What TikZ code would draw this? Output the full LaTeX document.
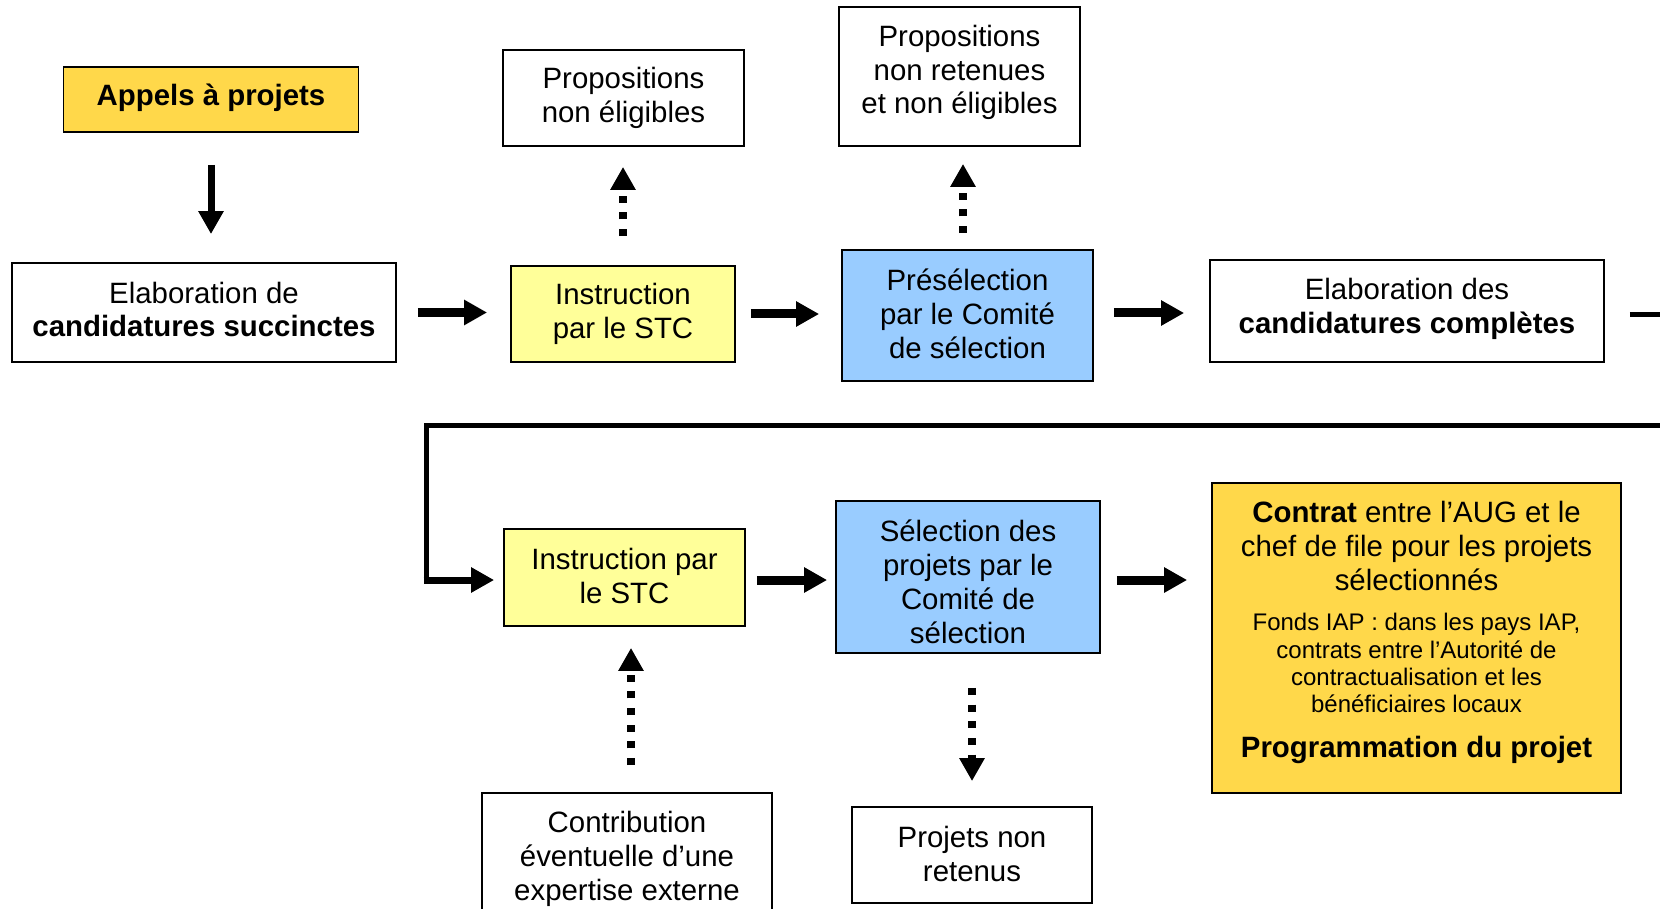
\documentclass[tikz,border=0pt]{standalone}
\usepackage{fontspec}
\setmainfont{Liberation Sans}
\usetikzlibrary{arrows.meta,calc}
\definecolor{gold}{HTML}{FFD84A}
\definecolor{lightyel}{HTML}{FFFF99}
\definecolor{skyblue}{HTML}{99CCFF}
\newcommand{\fbig}{\fontsize{29.4}{33.9}\selectfont}
\newcommand{\fsmall}{\fontsize{24}{27.3}\selectfont}
\begin{document}
\begin{tikzpicture}[x=1pt,y=-1pt,
 box/.style={draw=black, line width=1.8pt, inner sep=0pt},
 txt/.style={inner sep=0pt, align=flush center, font=\fbig},
 flow/.style={line width=9pt, -{Triangle[length=23pt,width=24pt]}},
 dotflow/.style={line width=7.5pt, dash pattern=on 7pt off 9.7pt, -{Triangle[length=23pt,width=24pt]}},
 loopline/.style={line width=5pt, line join=miter},
]
\useasboundingbox (0,0) rectangle (1660,909);
\clip (0,0) rectangle (1660,909);
\fill[white] (0,0) rectangle (1660,909);

% top row
\node[box, fill=gold, minimum width=295pt, minimum height=65pt] (appels) at (211,99.5) {};
\node[txt, font=\fbig\bfseries] (appelsT) at (211,97.5) {Appels à projets};
\node[box, minimum width=384pt, minimum height=99pt] (elab1) at (204,312.5) {};
\node[txt] (elab1T) at (204,309.5) {Elaboration de\\\textbf{candidatures succinctes}};
\node[box, fill=lightyel, minimum width=224pt, minimum height=96pt] (stc1) at (623,314) {};
\node[txt] (stc1T) at (623,314) {Instruction\\par le STC};
\node[box, minimum width=241pt, minimum height=96pt] (propne) at (623.5,98) {};
\node[txt] (propneT) at (623.5,98) {Propositions\\non éligibles};
\node[box, fill=skyblue, minimum width=251pt, minimum height=131pt] (presel) at (967.5,315.5) {};
\node[txt] (preselT) at (967.5,313.5) {Présélection\\par le Comité\\de sélection};
\node[box, minimum width=241pt, minimum height=139pt] (propnr) at (959.5,76.5) {};
\node[txt] (propnrT) at (959.5,72.5) {Propositions\\non retenues\\et non éligibles};
\node[box, minimum width=394pt, minimum height=102pt] (elab2) at (1407,311) {};
\node[txt] (elab2T) at (1407,308.5) {Elaboration des\\\textbf{candidatures complètes}};

% bottom row
\node[box, fill=lightyel, minimum width=241pt, minimum height=97pt] (instr2) at (624.5,577.5) {};
\node[txt] (instr2T) at (624.5,576) {Instruction par\\le STC};
\node[box, fill=skyblue, minimum width=264pt, minimum height=152pt] (sel) at (968,577) {};
\node[txt] (selT) at (968,581.8) {Sélection des\\projets par le\\Comité de\\sélection};
\node[box, minimum width=290pt, minimum height=125pt] (contrib) at (627,855.5) {};
\node[txt] (contribT) at (627,858.5) {Contribution\\éventuelle d’une\\expertise externe};
\node[box, minimum width=240pt, minimum height=96pt] (projnr) at (972,855) {};
\node[txt] (projnrT) at (972,854) {Projets non\\retenus};
\node[box, fill=gold, minimum width=409pt, minimum height=310pt] (contrat) at (1416.5,638) {};
\node[txt, anchor=north, text width=400pt] (contratT) at ([yshift=-19pt]contrat.north)
 {\textbf{Contrat} entre l’AUG et le\\chef de file pour les projets\\sélectionnés\par
  \vspace{13pt}{\fsmall Fonds IAP : dans les pays IAP,\\contrats entre l’Autorité de\\contractualisation et les\\bénéficiaires locaux\par}
  \vspace{11pt}\textbf{Programmation du projet}\par};

% solid arrows
\draw[flow, line width=7pt, shorten <=32pt, shorten >=28pt] (appels.south) -- (appels.south |- elab1.north);
\draw[flow, shorten <=21pt, shorten >=23pt] (elab1.east) -- (elab1.east -| stc1.west);
\draw[flow, shorten <=15pt, shorten >=22pt] (stc1.east) -- (stc1.east -| presel.west);
\draw[flow, shorten <=20pt, shorten >=25pt] ([yshift=2.5pt]presel.east) -- ([yshift=2.5pt]presel.east -| elab2.west);
\draw[flow, shorten <=11pt, shorten >=8pt] ([yshift=-2.5pt]instr2.east) -- ([yshift=-2.5pt]instr2.east -| sel.west);
\draw[flow, shorten <=16pt, shorten >=24pt] ([yshift=-3pt]sel.east) -- ([yshift=-3pt]sel.east -| contrat.west);

% loop connector
\coordinate (offR) at (1700,315);
\coordinate (loopL) at (426,425);
\coordinate (loopC) at (426,580);
\draw[loopline] ([xshift=25pt,yshift=-4pt]elab2.east) -- (offR) |- (loopL) -- ([yshift=-3.5pt]loopC);
\draw[flow, line width=7pt, shorten >=9pt] ([xshift=-2.5pt]loopC) -- (loopC -| instr2.west);

% dotted arrows
\draw[dotflow, shorten <=29pt, shorten >=20pt] (stc1.north) -- (stc1.north |- propne.south);
\coordinate (d2s) at ($(presel.north)+(-4.5pt,0)$);
\draw[dotflow, shorten <=16pt, shorten >=17pt] (d2s) -- (d2s |- propnr.south);
\coordinate (d3s) at ($(contrib.north)+(4pt,0)$);
\draw[dotflow, shorten <=27pt, shorten >=21pt] (d3s) -- (d3s |- instr2.south);
\draw[dotflow, shorten <=34pt, shorten >=25pt] (projnr.north |- sel.south) -- (projnr.north);
\end{tikzpicture}
\end{document}
